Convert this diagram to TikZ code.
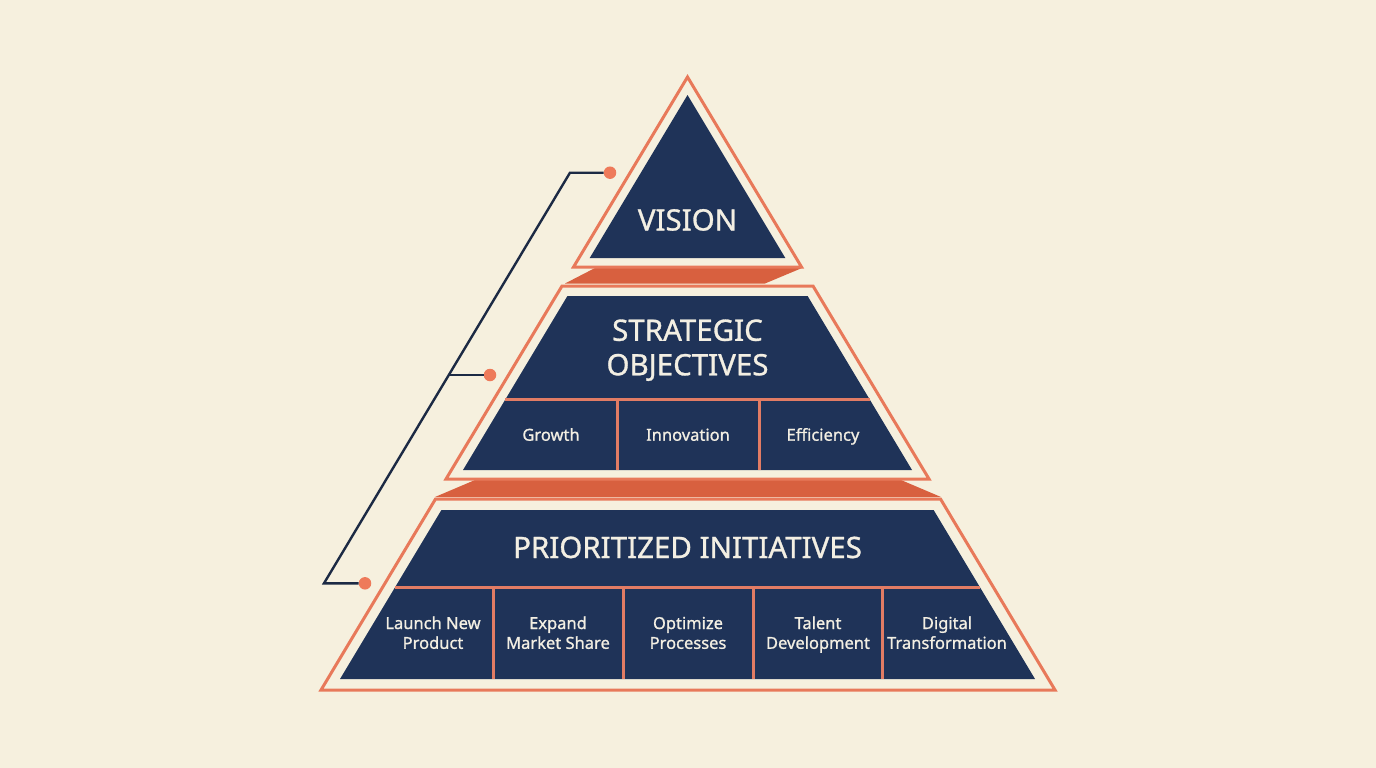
\documentclass[tikz,border=0pt]{standalone}
\usepackage{fontspec}
\setmainfont{Noto Sans}
\newfontfamily\medfont[FakeBold=1.0]{Noto Sans}
\definecolor{bg}{HTML}{F6F0DE}
\definecolor{navy}{HTML}{1F3358}
\definecolor{edge}{HTML}{E8795A}
\definecolor{band}{HTML}{D8603F}
\definecolor{divc}{HTML}{E27C64}
\definecolor{txt}{HTML}{F3EFE3}
\definecolor{wire}{HTML}{1C2A44}
\definecolor{dotc}{HTML}{EE7A5A}
\begin{document}
\begin{tikzpicture}[x=1pt,y=-1pt,
  outline/.style={draw=edge,line width=3pt,fill=bg,line join=miter},
  panel/.style={fill=navy},
  shelf/.style={fill=band},
  divider/.style={draw=divc,line width=3pt},
  head/.style={text=txt,font=\medfont\fontsize{29.5}{34.5}\selectfont,align=center,inner sep=0pt,text depth=0pt},
  cell/.style={text=txt,font=\medfont\fontsize{16.5}{19.8}\selectfont,align=center,inner sep=0pt,text depth=0pt},
  wirestyle/.style={draw=wire,line width=2.4pt},
  dotnode/.style={circle,fill=dotc,minimum size=12.5pt,inner sep=0pt}]
\fill[bg] (0,0) rectangle (1376,768);
\useasboundingbox (0,0) rectangle (1376,768);
% shelves between tiers
\fill[shelf] (595,268) -- (802,268) -- (765,283.5) -- (565,283.5) -- cycle;
\fill[shelf] (475,480) -- (901,480) -- (941,497) -- (435,497) -- cycle;
% outlines
\draw[outline] (687.5,77) -- (801.5,267) -- (573.5,267) -- cycle;
\draw[outline] (562,286) -- (813,286) -- (929,479) -- (446,479) -- cycle;
\draw[outline] (435.5,499) -- (940.5,499) -- (1055,690) -- (321,690) -- cycle;
% navy panels
\fill[panel] (687.5,95) -- (785.3,258) -- (589.7,258) -- cycle;
\fill[panel] (567.4,296) -- (807.6,296) -- (912,470) -- (463,470) -- cycle;
\fill[panel] (441.4,510) -- (933.6,510) -- (1035,679) -- (340,679) -- cycle;
% dividers
\draw[divider] (505.3,399.5) -- (869.7,399.5);
\draw[divider] (617,399.5) -- (617,470);
\draw[divider] (759,399.5) -- (759,470);
\draw[divider] (395.2,587) -- (979.8,587);
\draw[divider] (493,587) -- (493,679);
\draw[divider] (623,587) -- (623,679);
\draw[divider] (753,587) -- (753,679);
\draw[divider] (882.5,587) -- (882.5,679);
% texts
\node[head,anchor=base] (vision) at (687.5,230.5) {VISION};
\node[head,anchor=south] (strat) at (687.5,375.5) {STRATEGIC\\OBJECTIVES};
\node[head,anchor=base] (prio) at (687.5,558) {PRIORITIZED INITIATIVES};
\node[cell,anchor=base] (growth) at (551,440.7) {Growth};
\node[cell,anchor=base] (innov) at (688,440.7) {Innovation};
\node[cell,anchor=base] (effic) at (823,440.7) {Efficiency};
\node[cell,anchor=south] (launch) at (433,649) {Launch New\\Product};
\node[cell,anchor=south] (expand) at (558,649) {Expand\\Market Share};
\node[cell,anchor=south] (optim) at (688,649) {Optimize\\Processes};
\node[cell,anchor=south] (talent) at (818,649) {Talent\\Development};
\node[cell,anchor=south] (digital) at (947,649) {Digital\\Transformation};
% connector
\node[dotnode] (d1) at (610,172.7) {};
\node[dotnode] (d2) at (490,375) {};
\node[dotnode] (d3) at (365,583.3) {};
\coordinate (k1) at (570,172.7);
\coordinate (k2) at (324,583.3);
\coordinate (k3) at (448.8,375);
\draw[wirestyle] (d1.west) -- (k1) -- (k2) -- (d3.west);
\draw[wirestyle] (k3) -- (d2.west);
\end{tikzpicture}
\end{document}
